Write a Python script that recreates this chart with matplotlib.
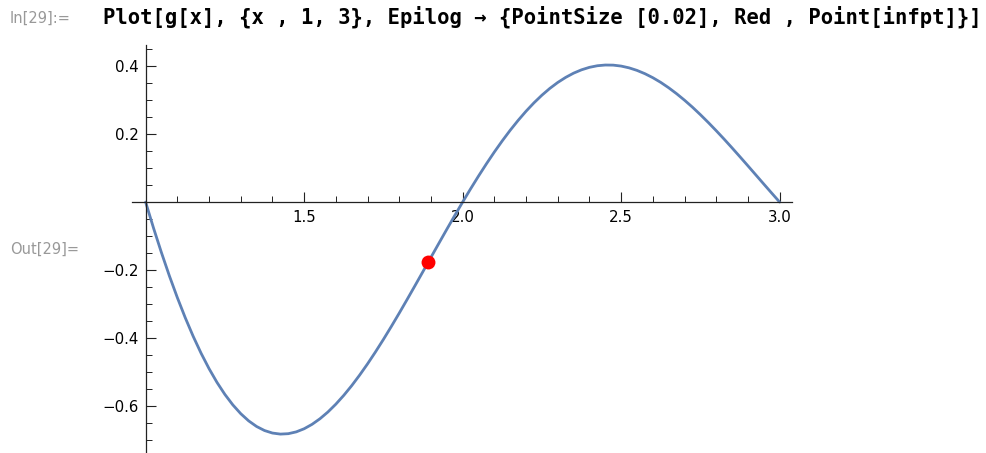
import numpy as np
import matplotlib.pyplot as plt
from matplotlib.ticker import FixedLocator

# g[x] sampled over {x, 1, 3}, step 0.025
x_vals = [1.000, 1.025, 1.050, 1.075, 1.100, 1.125, 1.150, 1.175, 1.200, 1.225,
          1.250, 1.275, 1.300, 1.325, 1.350, 1.375, 1.400, 1.425, 1.450, 1.475,
          1.500, 1.525, 1.550, 1.575, 1.600, 1.625, 1.650, 1.675, 1.700, 1.725,
          1.750, 1.775, 1.800, 1.825, 1.850, 1.875, 1.900, 1.925, 1.950, 1.975,
          2.000, 2.025, 2.050, 2.075, 2.100, 2.125, 2.150, 2.175, 2.200, 2.225,
          2.250, 2.275, 2.300, 2.325, 2.350, 2.375, 2.400, 2.425, 2.450, 2.475,
          2.500, 2.525, 2.550, 2.575, 2.600, 2.625, 2.650, 2.675, 2.700, 2.725,
          2.750, 2.775, 2.800, 2.825, 2.850, 2.875, 2.900, 2.925, 2.950, 2.975,
          3.000]
g_vals = [0.0, -0.0766, -0.1490, -0.2172, -0.2809, -0.3402, -0.3948, -0.4447, -0.4898, -0.5302,
          -0.5657, -0.5964, -0.6223, -0.6435, -0.6600, -0.6719, -0.6793, -0.6824, -0.6812, -0.6759,
          -0.6667, -0.6537, -0.6372, -0.6174, -0.5944, -0.5685, -0.5400, -0.5090, -0.4759, -0.4408,
          -0.4041, -0.3659, -0.3266, -0.2863, -0.2454, -0.2041, -0.1626, -0.1213, -0.0802, -0.0397,
          0.0, 0.0388, 0.0763, 0.1125, 0.1472, 0.1801, 0.2112, 0.2402, 0.2672, 0.2919,
          0.3143, 0.3343, 0.3518, 0.3667, 0.3792, 0.3890, 0.3963, 0.4010, 0.4031, 0.4028,
          0.4000, 0.3948, 0.3873, 0.3776, 0.3658, 0.3520, 0.3362, 0.3187, 0.2996, 0.2791,
          0.2571, 0.2340, 0.2099, 0.1850, 0.1593, 0.1331, 0.1066, 0.0798, 0.0530, 0.0264,
          0.0]

# inflection point (Epilog)
infpt = (1.891, -0.177)

x_major = [1.5, 2.0, 2.5, 3.0]
y_major = [-0.6, -0.4, -0.2, 0.2, 0.4]
x_minor = [1.1, 1.2, 1.3, 1.4, 1.6, 1.7, 1.8, 1.9, 2.1, 2.2, 2.3, 2.4, 2.6, 2.7, 2.8, 2.9]
y_minor = [-0.7, -0.65, -0.55, -0.5, -0.45, -0.35, -0.3, -0.25, -0.15, -0.1, -0.05,
           0.05, 0.1, 0.15, 0.25, 0.3, 0.35, 0.45]

W, H = 987, 453
fig = plt.figure(figsize=(W / 100, H / 100), dpi=100)

# notebook cell labels and input line
fig.text(10 / W, 1 - 18 / H, "In[29]:=", fontsize=10.5, color="#999999", va="center", ha="left")
fig.text(103 / W, 1 - 17 / H,
         "Plot[g[x], {x , 1, 3}, Epilog \u2192 {PointSize [0.02], Red , Point[infpt]}]",
         fontsize=14.8, family="DejaVu Sans Mono", fontweight="bold", color="black",
         va="center", ha="left")
fig.text(10 / W, 1 - 249 / H, "Out[29]=", fontsize=10.5, color="#999999", va="center", ha="left")

ax = fig.add_axes([132 / W, 0, (792 - 132) / W, (453 - 45) / H])
ax.set_xlim(0.957, 3.039)
ax.set_ylim(-0.738, 0.462)
ax.patch.set_alpha(0)

ax.plot(x_vals, g_vals, color="#5E81B5", lw=2.0, solid_joinstyle="round",
        solid_capstyle="round", clip_on=False)
ax.plot([infpt[0]], [infpt[1]], "o", color="red", ms=10, mew=0, zorder=5)

# axes cross at (1, 0)
for s in ["top", "right"]:
    ax.spines[s].set_visible(False)
ax.spines["left"].set_position(("data", 1.0))
ax.spines["bottom"].set_position(("data", 0.0))
for s in ["left", "bottom"]:
    ax.spines[s].set_linewidth(0.9)
    ax.spines[s].set_color("#222222")

ax.xaxis.set_major_locator(FixedLocator(x_major))
ax.yaxis.set_major_locator(FixedLocator(y_major))
ax.xaxis.set_minor_locator(FixedLocator(x_minor))
ax.yaxis.set_minor_locator(FixedLocator(y_minor))
ax.set_xticklabels(["1.5", "2.0", "2.5", "3.0"])
ax.set_yticklabels(["\u22120.6", "\u22120.4", "\u22120.2", "0.2", "0.4"])
ax.tick_params(which="major", direction="in", length=7, width=0.8, color="#222222",
               labelsize=10.8, pad=5)
ax.tick_params(which="minor", direction="in", length=4, width=0.7, color="#222222")
ax.tick_params(axis="x", which="major", pad=6)

fig.savefig("out.png", dpi=100)
